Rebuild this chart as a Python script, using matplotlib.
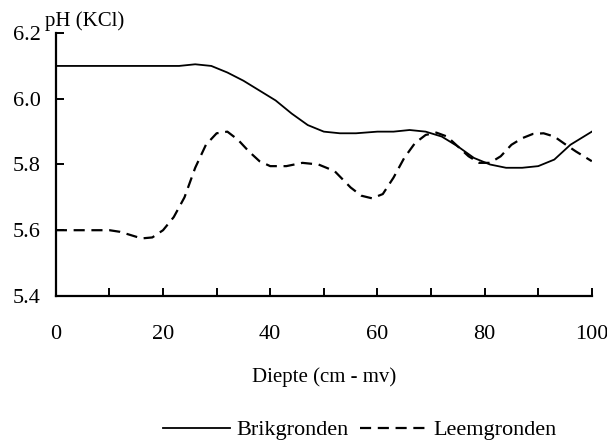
import matplotlib
matplotlib.use("Agg")
import matplotlib.pyplot as plt
from matplotlib.ticker import MultipleLocator, FormatStrFormatter

plt.rcParams['font.family'] = ['Liberation Serif', 'DejaVu Serif']

# pH per depth
brik_x = [0, 10, 20, 23, 26, 29, 32, 35, 38, 41, 44, 47, 50, 53, 56, 60, 63, 66,
          69, 72, 75, 78, 81, 84, 87, 90, 93, 96, 100]
brik_y = [6.10, 6.10, 6.10, 6.10, 6.105, 6.10, 6.08, 6.055, 6.025, 5.995, 5.955,
          5.92, 5.90, 5.895, 5.895, 5.90, 5.90, 5.905, 5.90, 5.885, 5.855, 5.82,
          5.80, 5.79, 5.79, 5.795, 5.815, 5.86, 5.90]

leem_x = [0, 5, 10, 12, 14, 16, 18, 20, 22, 24, 26, 28, 30, 32, 34, 36, 38, 40,
          43, 46, 49, 52, 55, 57, 59, 61, 63, 65, 67, 69, 71, 73, 75, 77, 79, 81,
          83, 85, 87, 89, 91, 93, 95, 97, 100]
leem_y = [5.60, 5.60, 5.60, 5.595, 5.585, 5.575, 5.578, 5.60, 5.64, 5.70, 5.79,
          5.86, 5.895, 5.90, 5.875, 5.84, 5.81, 5.795, 5.795, 5.805, 5.80, 5.78,
          5.73, 5.705, 5.697, 5.71, 5.76, 5.82, 5.865, 5.89, 5.897, 5.885, 5.855,
          5.825, 5.805, 5.805, 5.825, 5.86, 5.88, 5.893, 5.895, 5.885, 5.862,
          5.84, 5.81]

fig = plt.figure(figsize=(6.07, 4.47), dpi=100)
ax = fig.add_axes([0.092, 0.338, 0.883, 0.588])

ax.plot(brik_x, brik_y, color='black', lw=1.3, label='Brikgronden')
ax.plot(leem_x, leem_y, color='black', lw=1.6, dashes=(5, 3), label='Leemgronden')

ax.set_xlim(0, 100)
ax.set_ylim(5.4, 6.2)
ax.xaxis.set_major_locator(MultipleLocator(20))
ax.xaxis.set_minor_locator(MultipleLocator(10))
ax.yaxis.set_major_locator(MultipleLocator(0.2))
ax.yaxis.set_major_formatter(FormatStrFormatter('%.1f'))

for s in ['top', 'right']:
    ax.spines[s].set_visible(False)
for s in ['left', 'bottom']:
    ax.spines[s].set_linewidth(1.6)

ax.tick_params(axis='both', which='both', direction='in', width=1.4, labelsize=16)
ax.tick_params(axis='x', which='major', length=6, pad=21)
ax.tick_params(axis='x', which='minor', length=6)
ax.tick_params(axis='y', length=6, pad=11)

ax.set_xlabel('Diepte (cm - mv)', fontsize=15, labelpad=17)
ax.text(-0.021, 1.027, 'pH (KCl)', transform=ax.transAxes, fontsize=15,
        ha='left', va='baseline')

fig.legend(loc='center', bbox_to_anchor=(0.593, 0.038), ncol=2, frameon=False,
           fontsize=16, handlelength=3.0, handletextpad=0.3, columnspacing=0.5)

fig.savefig('out.png', dpi=100)
